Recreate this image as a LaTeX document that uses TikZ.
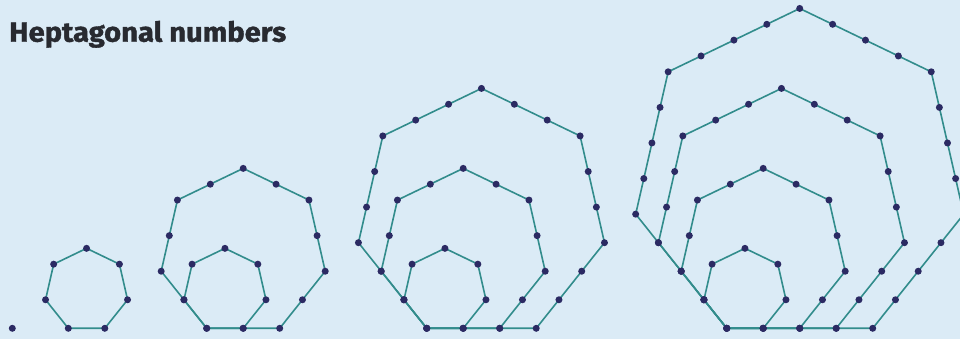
\documentclass[tikz,border=0pt]{standalone}
\usepackage{fontspec}
\setmainfont{Fira Sans}[BoldFeatures={FakeBold=1.3}]
\definecolor{bg}{RGB}{219,235,246}
\definecolor{edgec}{RGB}{50,140,140}
\definecolor{dotc}{RGB}{43,42,99}
\definecolor{titlec}{RGB}{40,42,48}
\begin{document}
\begin{tikzpicture}[x=1pt,y=1pt,
  edge/.style={draw=edgec,line width=1.6pt,line join=round},
  dot/.style={fill=dotc},
  titletext/.style={anchor=base west,inner sep=0pt,text=titlec,xscale=1.06,font=\bfseries\fontsize{27.5}{30}\selectfont}]
\fill[bg] (0,0) rectangle (960,339);
\clip (0,0) rectangle (960,339);
\def\d{36.5}
\def\by{10.7}
\def\rd{3.5}
\node[titletext] (title) at (9,297.3) {Heptagonal numbers};
% single dot
\fill[dot] (12.3,\by) circle (\rd);
% edges
\foreach \fx/\n in {68.3/1, 206.7/2, 426.7/3, 726.7/4}{
  \foreach \k in {1,...,\n}{
    \pgfmathsetmacro\s{\k*\d}
    \draw[edge] (\fx,\by) -- ++(0:\s) -- ++(51.4286:\s) -- ++(102.8571:\s)
      -- ++(154.2857:\s) -- ++(205.7143:\s) -- ++(257.1429:\s) -- cycle;
  }
}
% dots
\foreach \fx/\n in {68.3/1, 206.7/2, 426.7/3, 726.7/4}{
  \foreach \k in {1,...,\n}{
    \pgfmathsetmacro\R{\k*\d/(2*sin(180/7))}
    \pgfmathsetmacro\cx{\fx+\k*\d/2}
    \pgfmathsetmacro\cy{\by+\R*cos(180/7)}
    \pgfmathtruncatemacro\km{\k-1}
    \foreach \i in {0,...,6}{
      \pgfmathsetmacro\vx{\cx+\R*cos(244.2857+\i*51.4286)}
      \pgfmathsetmacro\vy{\cy+\R*sin(244.2857+\i*51.4286)}
      \foreach \j in {0,...,\km}{
        \fill[dot] ({\vx+\j*\d*cos(\i*51.4286)},{\vy+\j*\d*sin(\i*51.4286)}) circle (\rd);
      }
    }
  }
}
\end{tikzpicture}
\end{document}
